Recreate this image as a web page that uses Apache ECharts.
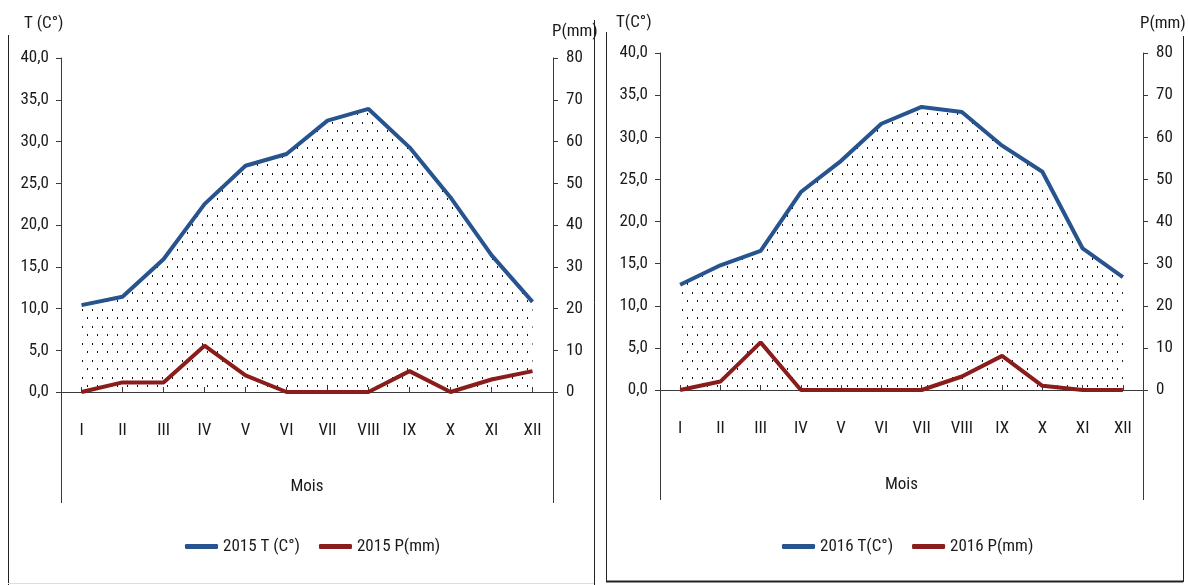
<!DOCTYPE html>
<html>
<head>
<meta charset="utf-8">
<script src="https://cdn.jsdelivr.net/npm/echarts@6/dist/echarts.min.js"></script>
<style>
html,body{margin:0;padding:0;background:#fff;}
#c{width:1188px;height:585px;}
</style>
</head>
<body>
<div id="c"></div>
<script>
const months = ['I','II','III','IV','V','VI','VII','VIII','IX','X','XI','XII'];
const t2015 = [10.4, 11.4, 15.9, 22.5, 27.1, 28.5, 32.5, 33.9, 29.3, 23.3, 16.4, 10.8];
const p2015 = [0, 2.3, 2.3, 11.1, 4.0, 0, 0, 0, 5.0, 0, 3.0, 5.0];
const t2016 = [12.5, 14.8, 16.5, 23.5, 27.2, 31.6, 33.6, 33.0, 29.0, 25.9, 16.8, 13.4];
const p2016 = [0, 2.0, 11.3, 0, 0, 0, 0, 3.2, 8.1, 1.0, 0, 0];
const names2015 = ['2015 T (C°)', '2015 P(mm)'];
const names2016 = ['2016 T(C°)', '2016 P(mm)'];
const tTitles = ['T (C°)', 'T(C°)'];
const pTitle = 'P(mm)';
const xTitle = 'Mois';

const FONT = "'Roboto Condensed', 'DejaVu Sans Condensed', sans-serif";
const FS = 17;
const TXT = '#1a1a1a';
const BLUE = '#27538f';
const RED = '#8b1c1c';
const AX = '#3a3a3a';

const pc = document.createElement('canvas');
pc.width = 10; pc.height = 17;
const pctx = pc.getContext('2d');
pctx.fillStyle = '#111';
pctx.fillRect(2, 3, 1, 2);
pctx.fillRect(7, 11, 1, 2);

const grids = [
  {left: 61, right: 1188 - 553, top: 58, bottom: 585 - 392},
  {left: 660, right: 1188 - 1143, top: 53, bottom: 585 - 390}
];

function xAxisFor(i) {
  return {
    type: 'category', gridIndex: i, data: months, boundaryGap: true,
    axisLine: {lineStyle: {color: AX, width: 1}},
    axisTick: {show: true, inside: true, alignWithLabel: true, length: 5, lineStyle: {color: AX}},
    axisLabel: {color: TXT, fontFamily: FONT, fontSize: FS, margin: 30},
    name: xTitle, nameLocation: 'middle', nameGap: 86,
    nameTextStyle: {color: TXT, fontFamily: FONT, fontSize: FS}
  };
}
function tAxis(i) {
  return {
    type: 'value', gridIndex: i, min: 0, max: 40, interval: 5, position: 'left',
    splitLine: {show: false},
    axisLine: {show: true, lineStyle: {color: AX}},
    axisTick: {show: true, length: 5, lineStyle: {color: AX}},
    axisLabel: {color: TXT, fontFamily: FONT, fontSize: FS, margin: 12,
      formatter: v => v.toFixed(1).replace('.', ',')}
  };
}
function pAxis(i) {
  return {
    type: 'value', gridIndex: i, min: 0, max: 80, interval: 10, position: 'right',
    splitLine: {show: false},
    axisLine: {show: true, lineStyle: {color: AX}},
    axisTick: {show: true, length: 5, lineStyle: {color: AX}},
    axisLabel: {color: TXT, fontFamily: FONT, fontSize: FS, margin: 13}
  };
}
function tSeries(name, data, gi) {
  return {
    name, type: 'line', xAxisIndex: gi, yAxisIndex: gi * 2, data,
    symbol: 'none', lineStyle: {color: BLUE, width: 4}, itemStyle: {color: BLUE},
    areaStyle: {color: {image: pc, repeat: 'repeat'}, opacity: 1},
    z: 3
  };
}
function pSeries(name, data, gi) {
  return {
    name, type: 'line', xAxisIndex: gi, yAxisIndex: gi * 2 + 1, data,
    symbol: 'none', lineStyle: {color: RED, width: 4}, itemStyle: {color: RED},
    z: 4
  };
}
function legendFor(names, left) {
  return {
    data: names, left, top: 533, itemGap: 19, itemWidth: 33, itemHeight: 5,
    icon: 'roundRect',
    textStyle: {color: TXT, fontFamily: FONT, fontSize: FS}
  };
}
function vline(x, y1, y2, color, w) {
  return {type: 'line', shape: {x1: x, y1, x2: x, y2}, style: {stroke: color || '#333', lineWidth: w || 1}, silent: true};
}
function hline(y, x1, x2, color, w) {
  return {type: 'line', shape: {x1, y1: y, x2, y2: y}, style: {stroke: color || '#333', lineWidth: w || 1}, silent: true};
}
function txt(x, y, s) {
  return {type: 'text', x, y, style: {text: s, fill: TXT, font: FS + 'px ' + FONT, textVerticalAlign: 'middle'}, silent: true};
}

const chart = echarts.init(document.getElementById('c'));
chart.setOption({
  animation: false,
  backgroundColor: '#fff',
  grid: grids,
  xAxis: [xAxisFor(0), xAxisFor(1)],
  yAxis: [tAxis(0), pAxis(0), tAxis(1), pAxis(1)],
  legend: [legendFor(names2015, 180), legendFor(names2016, 777)],
  series: [
    tSeries(names2015[0], t2015, 0), pSeries(names2015[1], p2015, 0),
    tSeries(names2016[0], t2016, 1), pSeries(names2016[1], p2016, 1)
  ],
  graphic: [
    vline(8.5, 35, 585, '#222'),
    vline(594.5, 20, 585, '#222'),
    hline(583.5, 8, 594, '#ddd'),
    vline(606.5, 32, 582, '#222'),
    vline(1183.5, 36, 582, '#222'),
    hline(581.5, 606, 1183, '#222', 2),
    vline(61.5, 392, 503, AX),
    vline(553.5, 392, 503, AX),
    vline(660.5, 390, 500, AX),
    vline(1143.5, 390, 500, AX),
    txt(24, 24, tTitles[0]),
    txt(552, 32, pTitle),
    txt(616, 23, tTitles[1]),
    txt(1140, 24, pTitle)
  ]
});
</script>
</body>
</html>
